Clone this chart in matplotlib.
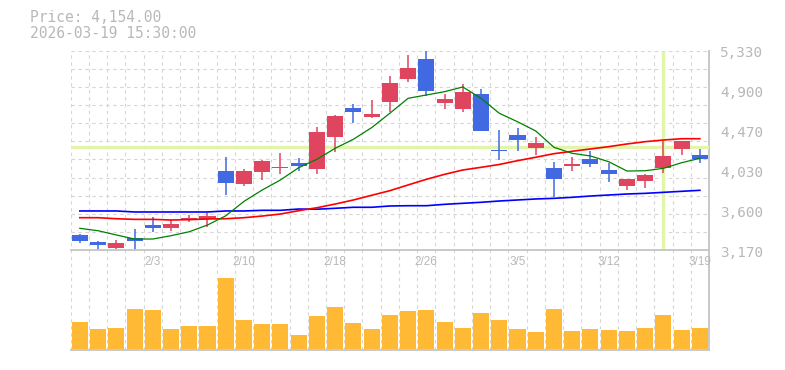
import matplotlib
matplotlib.use('Agg')
import matplotlib.pyplot as plt
import numpy as np

# daily bars, 2026-01-28 .. 2026-03-19
dates = ['1/28', '1/29', '1/30', '2/2', '2/3', '2/4', '2/5', '2/6', '2/9', '2/10',
         '2/12', '2/13', '2/16', '2/17', '2/18', '2/19', '2/20', '2/24', '2/25', '2/26',
         '2/27', '3/2', '3/3', '3/4', '3/5', '3/6', '3/9', '3/10', '3/11', '3/12',
         '3/13', '3/16', '3/17', '3/18', '3/19']
opens = [3333, 3257, 3195, 3300, 3441, 3412, 3492, 3506, 4026, 3885,
         4019, 4059, 4116, 4051, 4398, 4709, 4615, 4777, 5027, 5240,
         4766, 4701, 4861, 4257, 4416, 4276, 4062, 4084, 4156, 4037,
         3860, 3921, 4062, 4268, 4200]
highs = [3347, 3268, 3278, 3398, 3524, 3495, 3549, 3574, 4175, 4048,
         4146, 4221, 4164, 4503, 4633, 4749, 4796, 5056, 5283, 5330,
         4858, 4966, 4912, 4471, 4496, 4395, 4124, 4178, 4243, 4110,
         3940, 3997, 4355, 4355, 4265]
lows = [3249, 3172, 3184, 3172, 3368, 3379, 3477, 3423, 3769, 3867,
        3929, 3997, 4030, 3997, 4235, 4550, 4601, 4669, 4994, 4842,
        4698, 4669, 4463, 4145, 4243, 4200, 3748, 4026, 4070, 3907,
        3824, 3845, 4008, 4203, 4116]
closes = [3268, 3224, 3243, 3268, 3412, 3452, 3517, 3539, 3899, 4026,
          4135, 4070, 4084, 4449, 4622, 4669, 4644, 4980, 5139, 4897,
          4807, 4882, 4463, 4246, 4362, 4330, 3940, 4105, 4105, 3997,
          3940, 3983, 4189, 4351, 4154]
volumes = [273, 203, 213, 403, 393, 203, 233, 233, 716, 293,
           253, 253, 143, 333, 423, 263, 203, 343, 383, 393,
           273, 213, 363, 293, 203, 173, 403, 183, 203, 193,
           183, 213, 343, 193, 213]

# moving averages
ma_short = [3405, 3379, 3333, 3289, 3289, 3325, 3368, 3441, 3540, 3697,
            3820, 3929, 4062, 4153, 4272, 4370, 4496, 4652, 4814, 4850,
            4886, 4937, 4814, 4652, 4560, 4460, 4283, 4218, 4189, 4127,
            4026, 4029, 4055, 4116, 4164]
ma_mid = [3520, 3520, 3509, 3502, 3502, 3495, 3499, 3506, 3509, 3520,
          3538, 3560, 3596, 3628, 3668, 3712, 3763, 3813, 3875, 3936,
          3990, 4037, 4066, 4097, 4138, 4175, 4214, 4240, 4265, 4290,
          4319, 4344, 4362, 4376, 4376]
ma_long = [3593, 3593, 3593, 3582, 3582, 3582, 3582, 3582, 3593, 3593,
           3600, 3600, 3614, 3612, 3622, 3633, 3633, 3647, 3650, 3650,
           3665, 3676, 3687, 3701, 3712, 3723, 3730, 3741, 3755, 3766,
           3777, 3784, 3795, 3806, 3817]

label_every = 5
price_lo, price_hi = 3170, 5330
cross_idx, cross_price = 32, 4283
stamp = '2026-03-19 15:30:00'

plt.rcParams['lines.scale_dashes'] = False
grid_c = '#d6d6d6'
axis_c = '#c4c4c4'
text_c = '#b8b8b8'
up_c = '#e0455f'
down_c = '#4169e1'
cross_c = '#e2f5aa'

W, H = 785, 370
fig = plt.figure(figsize=(W / 100, H / 100), dpi=100)


def box(x0, y0, x1, y1):
    return [x0 / W, 1 - y1 / H, (x1 - x0) / W, (y1 - y0) / H]


x = np.arange(len(dates))
n = len(dates)

# background: vertical dashed grid through both panels
bg = fig.add_axes(box(70.7, 50.7, 709, 349.5))
bg.set_xlim(-0.5, n - 0.5)
bg.set_ylim(0, 1)
bg.axis('off')
for i in range(n):
    bg.axvline(i - 0.5, color=grid_c, lw=0.8, ls=(0, (2.5, 2.5)))
bg.axvline(n - 0.5, color=axis_c, lw=1.3, clip_on=False)

# price panel
ax = fig.add_axes(box(70.7, 50.7, 709, 250))
ax.set_facecolor('none')
ax.set_xlim(-0.5, n - 0.5)
ax.set_ylim(price_lo, price_hi)
for s in ['top', 'left', 'right']:
    ax.spines[s].set_visible(False)
ax.spines['bottom'].set_color(axis_c)
ax.spines['bottom'].set_linewidth(1.3)
ax.set_xticks([])
ax.set_yticks([])
for v in np.linspace(price_lo, price_hi, 12)[1:]:
    ax.axhline(v, color=grid_c, lw=0.8, ls=(0, (2.5, 2.5)), zorder=0)

# crosshair
ax.axhline(cross_price, color=cross_c, lw=2.4, zorder=1)
ax.axvline(cross_idx, ymin=0, ymax=0.99, color=cross_c, lw=2.4, zorder=1)

o = np.array(opens)
c = np.array(closes)
cols = [up_c if cc >= oo else down_c for oo, cc in zip(o, c)]
ax.vlines(x, lows, highs, colors=cols, lw=1.1, zorder=2)
ax.bar(x, np.maximum(np.abs(c - o), 8), bottom=np.minimum(o, c), width=0.88,
       color=cols, lw=0, zorder=3)

ax.plot(x, ma_long, color='#0000ff', lw=1.2, zorder=4)
ax.plot(x, ma_mid, color='#ff0000', lw=1.2, zorder=4)
ax.plot(x, ma_short, color='#008000', lw=0.9, zorder=4)

for v in np.linspace(price_lo, price_hi, 6):
    ax.annotate(f'{int(round(v, -1)):,}', xy=(1, v), xycoords=('axes fraction', 'data'),
                xytext=(8, -2), textcoords='offset points', va='center', ha='left',
                color=text_c, fontsize=10.4, family='DejaVu Sans Mono', annotation_clip=False)

for i in range(label_every - 1, n, label_every):
    ax.text(i, -0.06, dates[i], transform=ax.get_xaxis_transform(), ha='center', va='center',
            color=text_c, fontsize=8.5, family='Liberation Sans')

# volume panel
vax = fig.add_axes(box(70.7, 262, 709, 349.5))
vax.set_facecolor('none')
vax.set_xlim(-0.5, n - 0.5)
vax.set_ylim(-1.5, 875)
for s in ['top', 'left', 'right']:
    vax.spines[s].set_visible(False)
vax.spines['bottom'].set_color(axis_c)
vax.spines['bottom'].set_linewidth(1.3)
vax.set_xticks([])
vax.set_yticks([])
vax.bar(x, volumes, width=0.88, color='#ffb935', lw=0)

fig.text(30 / W, 1 - 17.7 / H, f'Price: {closes[-1]:,.2f}', color=text_c, fontsize=10.5,
         family='DejaVu Sans Mono', va='center', ha='left')
fig.text(30 / W, 1 - 33 / H, stamp, color=text_c, fontsize=10.5,
         family='DejaVu Sans Mono', va='center', ha='left')

fig.savefig('out.png', dpi=100)
